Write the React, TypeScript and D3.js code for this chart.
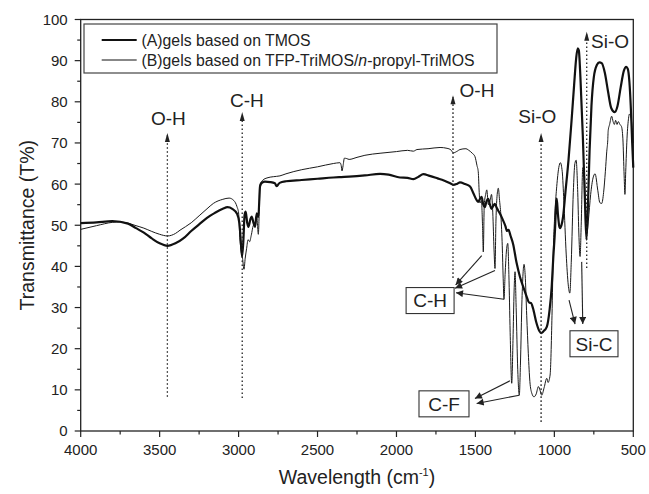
import React from "react";
import * as d3 from "d3";

// Series A: gels based on TMOS (thick)
const waveA = [4000,3900,3800,3700,3650,3600,3550,3500,3450,3400,3350,3300,3250,3200,3150,3100,3070,3040,3010,2995,2985,2978,2970,2962,2955,2945,2938,2925,2917,2905,2896,2885,2875,2864,2850,2833,2800,2770,2759,2740,2700,2600,2500,2400,2350,2300,2200,2104,2050,1978,1930,1893,1860,1830,1790,1740,1700,1682,1660,1640,1615,1598,1565,1534,1513,1492,1482,1470,1461,1450,1440,1430,1419,1408,1398,1387,1377,1366,1356,1340,1325,1310,1300,1290,1278,1261,1240,1218,1195,1175,1160,1148,1135,1115,1095,1083,1070,1048,1030,1017,1007,996,989,985,978,970,964,955,945,930,910,890,875,862,852,845,835,820,808,797,788,777,765,750,730,715,700,680,660,640,618,600,580,560,545,535,525,515,507,500];
const transA = [50.5,50.7,51.0,50.4,49.3,48.2,46.8,45.6,45.0,45.6,46.8,48.6,50.2,51.8,53.0,54.0,54.4,54.0,52.8,50.5,45.5,42.4,46,52.5,53.3,50.5,49.6,51.5,52.1,50.5,49.6,52.9,52,59.5,60.4,60.6,60.5,60.2,59.5,60.3,60.7,61.0,61.3,61.6,61.7,61.8,62.1,62.5,62.3,61.6,61.5,61.2,61.8,62.4,62.0,61.4,60.9,60.6,60.2,59.8,60.1,60.4,60.0,59.4,57.8,56.1,55.7,56.5,56.9,55.0,54.4,55.8,56.4,55.0,54.0,54.7,55.2,54.3,53.6,52.5,51.2,49.8,48.6,48.9,47.5,45.4,41.0,37.5,34.8,32.6,31.2,31.1,29.8,26.5,24.3,23.8,24.2,25.3,29.5,35.0,42.0,48.8,55.0,56.5,53.0,50.0,49.3,50.0,52.0,58.0,66.0,76.0,84.0,90.5,93.0,92.5,86.0,72.0,58.0,46.5,54.0,68.0,79.0,86.0,89.0,89.6,89.4,87.0,82.5,78.5,77.5,79.0,83.5,87.5,88.5,88.0,85.0,78.0,70.0,64.0];

// Series B: gels based on TFP-TriMOS/n-propyl-TriMOS (thin)
const waveB = [4000,3900,3800,3750,3700,3650,3600,3550,3500,3450,3400,3371,3300,3250,3200,3160,3100,3060,3030,3010,3000,2992,2985,2975,2966,2958,2949,2940,2930,2920,2905,2896,2885,2880,2875,2868,2864,2845,2820,2780,2738,2700,2600,2500,2400,2358,2350,2345,2338,2330,2315,2300,2250,2200,2104,2000,1930,1893,1870,1800,1724,1680,1655,1640,1615,1598,1560,1545,1520,1503,1490,1482,1476,1471,1462,1455,1450,1444,1435,1428,1418,1407,1398,1390,1382,1376,1370,1362,1355,1347,1338,1330,1324,1319,1312,1303,1295,1288,1280,1270,1262,1255,1249,1242,1232,1222,1215,1205,1192,1185,1175,1165,1155,1143,1129,1115,1101,1090,1080,1065,1048,1040,1027,1015,1007,995,985,972,962,950,940,925,912,902,893,880,870,862,852,844,837,830,820,812,802,794,785,770,755,742,725,712,700,688,677,668,662,659,650,637,628,620,612,603,595,585,575,566,558,553,548,540,530,525,515,505,500];
const transB = [49.0,49.9,50.7,50.8,50.5,49.9,49.3,48.5,47.8,47.4,48.0,48.8,50.6,52.3,54.0,55.3,56.3,56.6,56.0,54.5,53.0,47,44,42,39.3,42,44.4,46.5,46,47.5,50,49.6,52.5,50,47.8,55,60.0,61.0,61.5,61.8,62.0,62.5,63.5,64.2,65.0,65.2,64.5,63.2,64.5,66.3,66.2,66.0,66.5,67.0,67.5,67.9,68.2,68.0,68.4,68.6,68.9,68.7,68.3,67.6,68.0,68.4,68.6,68.3,67.5,66.7,64.5,63.0,58,55.4,56,50,43.5,55,57.5,58.6,55,56,57.5,53,44,39.5,51,57.5,59.0,56,52,45,37,32,38,44,45.6,38,24,11.6,22,34,38.7,30,15,8.7,16,32,40.5,38,28,18.9,12,9.2,8.3,9.0,10.8,9.8,8.7,10.5,12.8,11.8,13.6,28,43.2,54,59.4,64,65.2,63,56,43,35.5,33.5,41,58,65,65.8,58,47,42.4,50,64,64,53,48,51,57.5,61.5,62.5,58.5,55.5,55.3,58,63,68,70.5,73,74.5,76.5,75.2,74.5,75.5,74.5,75.2,74.5,74.0,71,62,57.5,63,71,76,77,76.3,72.5,70];

const legendLabels = ["(A)gels based on TMOS", "(B)gels based on TFP-TriMOS/"];
const xTicks = [4000, 3500, 3000, 2500, 2000, 1500, 1000, 500];
const yTicks = [0, 10, 20, 30, 40, 50, 60, 70, 80, 90, 100];

// dotted vertical arrows: wavenumber, bottom T, top T, label
const bandWave = [3451, 2977, 1642, 1084, 795];
const bandBottom = [8.3, 8.0, 37.2, 2.2, 39.6];
const bandTop = [72.4, 77.5, 81.6, 72.4, 97.0];
const bandLabels = ["O-H", "C-H", "O-H", "Si-O", "Si-O"];
const bandLabelWave = [3445, 2947, 1490, 1108, 647];
const bandLabelT = [74.4, 78.7, 81.2, 74.8, 93.1];

// boxed labels with solid arrows: [startW, startT, endW, endT]
const boxLabels = ["C-H", "C-F", "Si-C"];
const boxCenterWave = [1787, 1699, 749];
const boxCenterT = [31.7, 6.6, 21.2];
const arrowsCH = [[1460, 42.6, 1625, 35.5], [1376, 39.0, 1629, 34.7], [1319, 32.0, 1623, 33.6]];
const arrowsCF = [[1281, 12.2, 1503, 7.9], [1222, 8.7, 1492, 6.7]];
const arrowsSiC = [[907, 31.8, 869, 26.0], [827, 41.1, 820, 26.0]];

const W = 649, H = 494;
const left = 80.7, right = 633.3, top = 19.5, bottom = 431;
const FONT = "'Liberation Sans', Arial, sans-serif";

export default function App() {
  const x = d3.scaleLinear().domain([4000, 500]).range([left, right]);
  const y = d3.scaleLinear().domain([0, 100]).range([bottom, top]);
  const line = d3.line<[number, number]>().x(d => x(d[0])).y(d => y(d[1])).curve(d3.curveMonotoneX);
  const dataA = waveA.map((w, i) => [w, transA[i]] as [number, number]);
  const dataB = waveB.map((w, i) => [w, transB[i]] as [number, number]);
  const xMinor = d3.range(3750, 500, -500);
  const yMinor = d3.range(5, 100, 10);
  const allArrows = [...arrowsCH, ...arrowsCF, ...arrowsSiC];
  const boxW = [48, 50, 48];
  const boxH = 26;

  return (
    <svg width={W} height={H} style={{ position: "absolute", left: 0, top: 0, background: "#fff" }} fontFamily={FONT}>
      <defs>
        <marker id="ah" viewBox="0 0 10 10" refX="10" refY="5" markerWidth="9" markerHeight="7" markerUnits="userSpaceOnUse" orient="auto">
          <path d="M0,0 L10,5 L0,10 Z" fill="#222" />
        </marker>
      </defs>
      {/* frame */}
      <rect x={left} y={top} width={right - left} height={bottom - top} fill="none" stroke="#222" strokeWidth={1.3} />
      {/* x ticks */}
      {xTicks.map(t => (
        <g key={"xt" + t}>
          <line x1={x(t)} x2={x(t)} y1={bottom} y2={bottom + 6} stroke="#222" strokeWidth={1.2} />
          <text x={x(t)} y={bottom + 24} fontSize={15} textAnchor="middle" fill="#222">{t}</text>
        </g>
      ))}
      {xMinor.map(t => (
        <line key={"xm" + t} x1={x(t)} x2={x(t)} y1={bottom} y2={bottom + 3.5} stroke="#222" strokeWidth={1.2} />
      ))}
      {yTicks.map(t => (
        <g key={"yt" + t}>
          <line x1={left - 6} x2={left} y1={y(t)} y2={y(t)} stroke="#222" strokeWidth={1.2} />
          <text x={left - 13} y={y(t)} dy="0.36em" fontSize={15} textAnchor="end" fill="#222">{t}</text>
        </g>
      ))}
      {yMinor.map(t => (
        <line key={"ym" + t} x1={left - 3.5} x2={left} y1={y(t)} y2={y(t)} stroke="#222" strokeWidth={1.2} />
      ))}
      {/* axis titles */}
      <text x={(left + right) / 2} y={484} fontSize={19.5} textAnchor="middle" fill="#222">
        Wavelength (cm<tspan dy={-8} fontSize={11}>-1</tspan><tspan dy={8}>)</tspan>
      </text>
      <text transform={`translate(34,${(top + bottom) / 2}) rotate(-90)`} fontSize={19.5} textAnchor="middle" fill="#222">
        Transmittance (T%)
      </text>
      {/* data */}
      <path d={line(dataB) || ""} fill="none" stroke="#1a1a1a" strokeWidth={1} />
      <path d={line(dataA) || ""} fill="none" stroke="#111" strokeWidth={2.2} />
      {/* legend */}
      <rect x={84} y={24} width={413} height={49} fill="#fff" stroke="#444" strokeWidth={1.2} />
      <line x1={101.7} x2={136.7} y1={40} y2={40} stroke="#111" strokeWidth={2.2} />
      <line x1={101.7} x2={136.7} y1={60} y2={60} stroke="#111" strokeWidth={1} />
      <text x={141.5} y={46.3} fontSize={15.8} fill="#222">{legendLabels[0]}</text>
      <text x={141.5} y={66.3} fontSize={15.8} fill="#222">
        {legendLabels[1]}<tspan fontStyle="italic">n</tspan>-propyl-TriMOS
      </text>
      {/* dotted band arrows */}
      {bandWave.map((w, i) => (
        <g key={"b" + i}>
          <line x1={x(w)} x2={x(w)} y1={y(bandBottom[i])} y2={y(bandTop[i]) + 2} stroke="#222" strokeWidth={1.3} strokeDasharray="1.6,2.4" />
          <path d={`M${x(w) - 2.5},${y(bandTop[i]) + 9} L${x(w)},${y(bandTop[i])} L${x(w) + 2.5},${y(bandTop[i]) + 9} Z`} fill="#222" />
          <text x={x(bandLabelWave[i])} y={y(bandLabelT[i])} fontSize={19} textAnchor="middle" fill="#222">{bandLabels[i]}</text>
        </g>
      ))}
      {/* solid arrows */}
      {allArrows.map((a, i) => (
        <line key={"a" + i} x1={x(a[0])} y1={y(a[1])} x2={x(a[2])} y2={y(a[3])} stroke="#222" strokeWidth={1.1} markerEnd="url(#ah)" />
      ))}
      {/* boxed labels */}
      {boxLabels.map((lab, i) => (
        <g key={"bx" + i}>
          <rect x={x(boxCenterWave[i]) - boxW[i] / 2} y={y(boxCenterT[i]) - boxH / 2} width={boxW[i]} height={boxH} fill="#fff" stroke="#333" strokeWidth={1.1} />
          <text x={x(boxCenterWave[i])} y={y(boxCenterT[i])} dy="0.36em" fontSize={19} textAnchor="middle" fill="#222">{lab}</text>
        </g>
      ))}
    </svg>
  );
}
